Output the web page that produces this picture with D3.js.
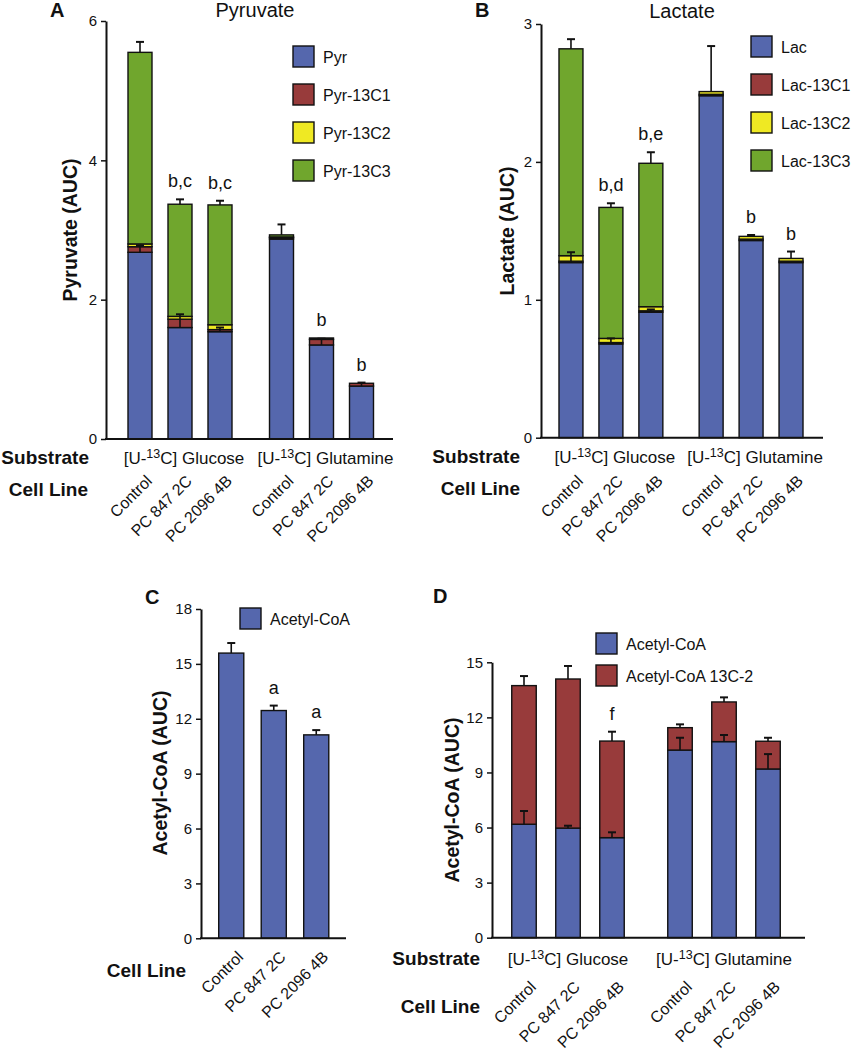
<!DOCTYPE html>
<meta charset="utf-8">
<script src="https://d3js.org/d3.v7.min.js"></script>
<style>
  body { margin: 0; background: #fff; }
  text { font-family: "Liberation Sans", Arial, sans-serif; fill: #111; }
</style>
<svg id="fig"></svg>
<script>
// ---- data ----
var cellLines = ["Control", "PC 847 2C", "PC 2096 4B"];
var substrates = ["Glucose", "Glutamine"];

// A: pyruvate, 6 bars = glucose x 3 cell lines, glutamine x 3
var pyrKeys = ["Pyr", "Pyr-13C1", "Pyr-13C2", "Pyr-13C3"];
var pyr      = [2.68, 1.60, 1.54, 2.87, 1.35, 0.76];
var pyr13C1  = [0.08, 0.12, 0.03, 0.02, 0.08, 0.04];
var pyr13C2  = [0.04, 0.04, 0.07, 0.01, 0.00, 0.00];
var pyr13C3  = [2.75, 1.61, 1.72, 0.03, 0.02, 0.00];
var pyrErr   = [0.10, 0.19, 0.06, 0.00, 0.09, 0.05];
var pyrTopErr = [0.15, 0.07, 0.06, 0.15, 0.00, 0.00];
var pyrNotes = ["", "b,c", "b,c", "", "b", "b"];
var pyrTicks = [0, 2, 4, 6];

// B: lactate
var lacKeys = ["Lac", "Lac-13C1", "Lac-13C2", "Lac-13C3"];
var lac      = [1.27, 0.68, 0.91, 2.48, 1.43, 1.27];
var lac13C1  = [0.01, 0.01, 0.01, 0.01, 0.01, 0.01];
var lac13C2  = [0.04, 0.03, 0.03, 0.02, 0.02, 0.02];
var lac13C3  = [1.50, 0.95, 1.04, 0.00, 0.00, 0.00];
var lacErr   = [0.075, 0.04, 0.02, 0.00, 0.00, 0.00];
var lacTopErr = [0.07, 0.03, 0.08, 0.33, 0.01, 0.05];
var lacNotes = ["", "b,d", "b,e", "", "b", "b"];
var lacTicks = [0, 1, 2, 3];

// C: acetyl-CoA, unlabeled experiment
var acoa    = [15.59, 12.45, 11.12];
var acoaErr = [0.55, 0.27, 0.26];
var acoaNotes = ["", "a", "a"];
var acoaTicks = [0, 3, 6, 9, 12, 15, 18];

// D: acetyl-CoA with 13C-2
var acoaKeys = ["Acetyl-CoA", "Acetyl-CoA 13C-2"];
var acoaD      = [6.18, 5.97, 5.45, 10.22, 10.68, 9.19];
var acoaD13C2  = [7.55, 8.12, 5.26, 1.22, 2.16, 1.51];
var acoaDErr   = [0.72, 0.13, 0.29, 0.67, 0.36, 0.81];
var acoaDTopErr = [0.52, 0.71, 0.51, 0.18, 0.25, 0.19];
var acoaDNotes = ["", "", "f", "", "", ""];
var acoaDTicks = [0, 3, 6, 9, 12, 15];

var colors = ["#5567ad", "#983b3b", "#efe923", "#70a62d"];

// ---- svg ----
var width = 852, height = 1050;
var svg = d3.select("#fig").attr("width", width).attr("height", height);

function rowsFrom(keys, cols) {
  var rows = [];
  substrates.forEach(function (s, si) {
    cellLines.forEach(function (c, ci) {
      var i = si * 3 + ci;
      var r = { sub: s, cell: c, i: i };
      keys.forEach(function (k, ki) { r[k] = cols[ki][i]; });
      rows.push(r);
    });
  });
  return rows;
}

function yAxis(g, y, ticks, x) {
  var ax = g.append("g")
    .attr("transform", "translate(" + x + ",0)")
    .call(d3.axisLeft(y).tickValues(ticks).tickSize(5).tickSizeOuter(0).tickPadding(4).tickFormat(d3.format("d")));
  ax.select(".domain").attr("stroke", "#111").attr("stroke-width", 2);
  ax.selectAll(".tick line").attr("stroke", "#111").attr("stroke-width", 1.5);
  ax.selectAll(".tick text").attr("font-size", 15).attr("font-family", "Liberation Sans, Arial, sans-serif").attr("fill", "#111");
}

function xLine(g, y, x0, x1) {
  g.append("line").attr("x1", x0 - 1).attr("x2", x1).attr("y1", y(0)).attr("y2", y(0))
    .attr("stroke", "#111").attr("stroke-width", 2);
}

function errBar(g, x, yFrom, yTo) {
  g.append("line").attr("x1", x).attr("x2", x).attr("y1", yFrom).attr("y2", yTo)
    .attr("stroke", "#111").attr("stroke-width", 1.6);
  g.append("line").attr("x1", x - 4).attr("x2", x + 4).attr("y1", yTo).attr("y2", yTo)
    .attr("stroke", "#111").attr("stroke-width", 2);
}

function stacked(g, rows, keys, xc, bw, y, errs, notes) {
  var series = d3.stack().keys(keys)(rows);
  g.selectAll("g.layer").data(series).enter().append("g")
    .attr("fill", function (d, i) { return colors[i]; })
    .selectAll("rect").data(function (d) { return d; }).enter().append("rect")
    .attr("x", function (d) { return xc(d.data) - bw / 2; })
    .attr("width", bw)
    .attr("y", function (d) { return y(d[1]); })
    .attr("height", function (d) { return Math.max(0, y(d[0]) - y(d[1])); })
    .attr("stroke", "#111").attr("stroke-width", 1.4);
  // error bars: errs[k] belongs to the top of series k
  errs.forEach(function (e) {
    var s = series[e.layer];
    s.forEach(function (d, i) {
      if (e.values[i] > 0) errBar(g, xc(d.data), y(d[1]), y(d[1] + e.values[i]));
    });
  });
  var top = series[series.length - 1];
  top.forEach(function (d, i) {
    if (!notes[i]) return;
    var m = d[1];
    errs.forEach(function (e) { m = Math.max(m, series[e.layer][i][1] + e.values[i]); });
    g.append("text").attr("x", xc(d.data)).attr("y", y(m) - 12)
      .attr("text-anchor", "middle").attr("font-size", 18).text(notes[i]);
  });
}

function legend(g, labels, x, y0, step) {
  labels.forEach(function (l, i) {
    g.append("rect").attr("x", x).attr("y", y0 + i * step).attr("width", 21).attr("height", 21)
      .attr("fill", colors[i]).attr("stroke", "#111").attr("stroke-width", 1.4);
    g.append("text").attr("x", x + 30).attr("y", y0 + i * step + 16.5).attr("font-size", 16).text(l);
  });
}

function substrateText(g, x, y, name) {
  var t = g.append("text").attr("x", x).attr("y", y).attr("text-anchor", "middle").attr("font-size", 17);
  t.append("tspan").text("[U-");
  t.append("tspan").attr("font-size", 12.5).attr("dy", -6).text("13");
  t.append("tspan").attr("dy", 6).text("C] " + name);
}

function cellText(g, rows, xc, y) {
  rows.forEach(function (r) {
    g.append("text").attr("text-anchor", "end").attr("font-size", 16)
      .attr("transform", "translate(" + (xc(r) + 13) + "," + y + ") rotate(-45)")
      .text(r.cell);
  });
}

function bold(g, x, y, txt, size, anchor, rot) {
  var t = g.append("text").attr("font-weight", "bold").attr("font-size", size)
    .attr("text-anchor", anchor || "end");
  if (rot) t.attr("transform", "translate(" + x + "," + y + ") rotate(-90)");
  else t.attr("x", x).attr("y", y);
  return t.text(txt);
}

function grouped(range, pad, innerPadIn, innerPadOut) {
  var outer = d3.scaleBand().domain(substrates).range(range).paddingInner(pad);
  var inner = d3.scaleBand().domain(cellLines).range([0, outer.bandwidth()])
    .paddingInner(innerPadIn).paddingOuter(innerPadOut);
  var xc = function (r) { return outer(r.sub) + inner(r.cell) + inner.bandwidth() / 2; };
  return { outer: outer, inner: inner, xc: xc };
}

// ---- panel A ----
(function () {
  var g = svg.append("g");
  var rows = rowsFrom(pyrKeys, [pyr, pyr13C1, pyr13C2, pyr13C3]);
  var y = d3.scaleLinear().domain([0, 6]).range([439, 21]);
  var gx = grouped([120, 381.5], 0.152, 0.4, 0.2);
  stacked(g, rows, pyrKeys, gx.xc, gx.inner.bandwidth(), y,
    [{ layer: 0, values: pyrErr }, { layer: 3, values: pyrTopErr }], pyrNotes);
  yAxis(g, y, pyrTicks, 106);
  xLine(g, y, 106, 393);
  legend(g, pyrKeys, 293, 46, 38);
  g.append("text").attr("x", 255).attr("y", 17).attr("text-anchor", "middle").attr("font-size", 20).text("Pyruvate");
  bold(g, 50, 17, "A", 20, "start");
  bold(g, 77, 230, "Pyruvate (AUC)", 19.5, "middle", true);
  bold(g, 89, 464, "Substrate", 19);
  bold(g, 88, 496, "Cell Line", 19);
  substrates.forEach(function (s) { substrateText(g, gx.outer(s) + gx.outer.bandwidth() / 2 + 4, 464, s); });
  cellText(g, rows, gx.xc, 482);
})();

// ---- panel B ----
(function () {
  var g = svg.append("g");
  var rows = rowsFrom(lacKeys, [lac, lac13C1, lac13C2, lac13C3]);
  var y = d3.scaleLinear().domain([0, 3]).range([437.7, 24]);
  var gx = grouped([551, 811], 0.145, 0.4, 0.2);
  stacked(g, rows, lacKeys, gx.xc, gx.inner.bandwidth(), y,
    [{ layer: 0, values: lacErr }, { layer: 3, values: lacTopErr }], lacNotes);
  yAxis(g, y, lacTicks, 541);
  xLine(g, y, 541, 823);
  legend(g, lacKeys, 751, 36, 38);
  g.append("text").attr("x", 682).attr("y", 18).attr("text-anchor", "middle").attr("font-size", 20).text("Lactate");
  bold(g, 475, 17, "B", 20, "start");
  bold(g, 514, 231, "Lactate (AUC)", 19.5, "middle", true);
  bold(g, 520, 463, "Substrate", 19);
  bold(g, 520, 495, "Cell Line", 19);
  substrates.forEach(function (s) { substrateText(g, gx.outer(s) + gx.outer.bandwidth() / 2 + 4, 463, s); });
  cellText(g, rows, gx.xc, 482);
})();

// ---- panel C ----
(function () {
  var g = svg.append("g");
  var rows = cellLines.map(function (c, i) { return { sub: "", cell: c, i: i, "Acetyl-CoA": acoa[i] }; });
  var y = d3.scaleLinear().domain([0, 18]).range([938.3, 609]);
  var x = d3.scaleBand().domain(cellLines).range([210, 337.5]).paddingInner(0.41).paddingOuter(0.205);
  var xc = function (r) { return x(r.cell) + x.bandwidth() / 2; };
  stacked(g, rows, ["Acetyl-CoA"], xc, x.bandwidth(), y, [{ layer: 0, values: acoaErr }], acoaNotes);
  yAxis(g, y, acoaTicks, 201);
  xLine(g, y, 201, 346);
  legend(g, ["Acetyl-CoA"], 240, 608, 0);
  bold(g, 145, 604, "C", 20, "start");
  bold(g, 167, 773, "Acetyl-CoA (AUC)", 19.5, "middle", true);
  bold(g, 186, 977, "Cell Line", 19);
  cellText(g, rows, xc, 958);
})();

// ---- panel D ----
(function () {
  var g = svg.append("g");
  var rows = rowsFrom(acoaKeys, [acoaD, acoaD13C2]);
  var y = d3.scaleLinear().domain([0, 15]).range([937.7, 662.3]);
  var gx = grouped([502, 790], 0.154, 0.443, 0.2215);
  stacked(g, rows, acoaKeys, gx.xc, gx.inner.bandwidth(), y,
    [{ layer: 0, values: acoaDErr }, { layer: 1, values: acoaDTopErr }], acoaDNotes);
  yAxis(g, y, acoaDTicks, 492);
  xLine(g, y, 492, 805);
  legend(g, acoaKeys, 596, 633, 32);
  bold(g, 433, 603, "D", 20, "start");
  bold(g, 459, 800, "Acetyl-CoA (AUC)", 19.5, "middle", true);
  bold(g, 480, 965, "Substrate", 19);
  bold(g, 480, 1013, "Cell Line", 19);
  substrates.forEach(function (s) { substrateText(g, gx.outer(s) + gx.outer.bandwidth() / 2, 965, s); });
  cellText(g, rows, gx.xc, 988);
})();
</script>
